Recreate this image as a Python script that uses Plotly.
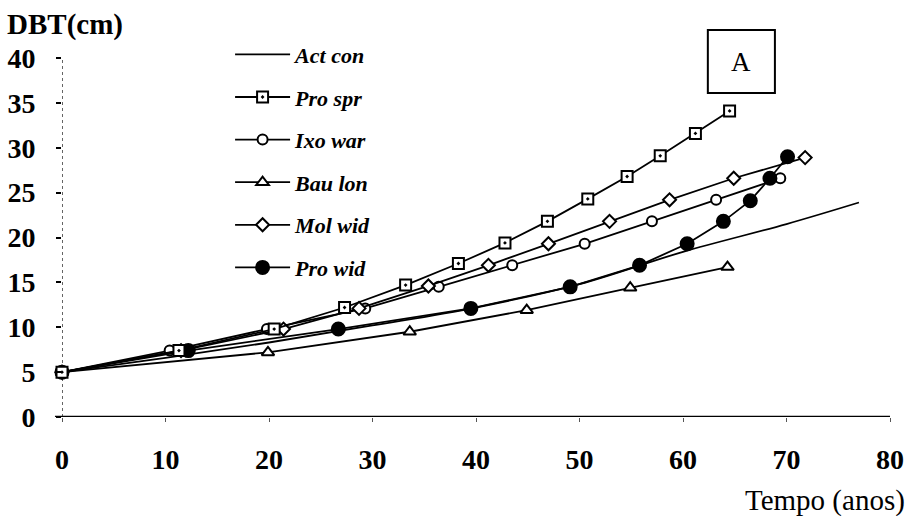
import plotly.graph_objects as go

# ---- data ----
act_con_x = [0, 10, 20, 30, 40, 50, 60, 70, 77]
act_con_y = [5, 6.6, 8.3, 10.2, 12.2, 14.8, 18.4, 21.5, 23.9]

pro_spr_x = [0, 11.3, 20.5, 27.3, 33.2, 38.3, 42.8, 46.9, 50.8, 54.6, 57.8, 61.2, 64.5]
pro_spr_y = [5, 7.4, 9.8, 12.2, 14.7, 17.1, 19.4, 21.8, 24.3, 26.8, 29.1, 31.6, 34.1]

ixo_war_x = [0, 10.4, 19.8, 29.3, 36.4, 43.5, 50.5, 57.0, 63.2, 69.4]
ixo_war_y = [5, 7.4, 9.8, 12.1, 14.5, 16.9, 19.3, 21.8, 24.2, 26.6]

bau_lon_x = [0, 19.9, 33.6, 44.9, 54.9, 64.3]
bau_lon_y = [5, 7.2, 9.5, 11.9, 14.4, 16.7]

mol_wid_x = [0, 11.5, 21.4, 28.7, 35.4, 41.2, 47.0, 52.9, 58.7, 64.9, 71.8]
mol_wid_y = [5, 7.4, 9.8, 12.1, 14.6, 16.9, 19.3, 21.8, 24.2, 26.6, 28.9]

pro_wid_x = [0, 12.2, 26.7, 39.5, 49.1, 55.8, 60.4, 63.9, 66.5, 68.4, 70.1]
pro_wid_y = [5, 7.4, 9.8, 12.1, 14.5, 16.9, 19.3, 21.8, 24.1, 26.6, 29.0]

x_ticks = [0, 10, 20, 30, 40, 50, 60, 70, 80]
y_ticks = [0, 5, 10, 15, 20, 25, 30, 35, 40]

SERIF = "Liberation Serif"
BLACK = "black"

fig = go.Figure()

def add(name, xs, ys, rank, symbol=None, size=11, fill="white", shape="linear"):
    kw = dict(x=xs, y=ys, name=name, legendgroup=name, legendrank=rank,
              cliponaxis=False,
              line=dict(color=BLACK, width=1.8, shape=shape))
    if symbol is None:
        kw["mode"] = "lines"
    else:
        kw["mode"] = "lines+markers"
        kw["marker"] = dict(symbol=symbol, size=size, color=fill,
                            line=dict(color=BLACK, width=2))
    fig.add_trace(go.Scatter(**kw))

add("Act con", act_con_x, act_con_y, 1, shape="spline")
add("Ixo war", ixo_war_x, ixo_war_y, 3, symbol="circle", size=10)
add("Bau lon", bau_lon_x, bau_lon_y, 4, symbol="triangle-up", size=11)
add("Mol wid", mol_wid_x, mol_wid_y, 5, symbol="diamond", size=10)
add("Pro wid", pro_wid_x, pro_wid_y, 6, symbol="circle", size=13, fill=BLACK)
add("Pro spr", pro_spr_x, pro_spr_y, 2, symbol="square-dot", size=11)

tick_font = dict(family=SERIF, size=28, color=BLACK, weight="bold")

fig.update_xaxes(range=[0, 80], tickvals=x_ticks, ticktext=[str(v) for v in x_ticks],
                 showgrid=False, zeroline=False, showline=False, automargin=False,
                 ticks="outside", ticklen=4, tickwidth=1, tickcolor="#555",
                 tickfont=tick_font, ticklabelstandoff=13)
fig.update_yaxes(range=[0, 40], tickvals=y_ticks, ticktext=[str(v) for v in y_ticks],
                 showgrid=False, zeroline=False, showline=False, automargin=False,
                 ticks="outside", ticklen=5, tickwidth=2, tickcolor=BLACK,
                 tickfont=tick_font, ticklabelstandoff=15)

shapes = [
    # dotted y axis
    dict(type="line", xref="x", yref="y", x0=0, x1=0, y0=0, y1=40,
         line=dict(color="#333", width=1.5, dash="dot"), layer="below"),
    # x axis line (extends slightly left of 0)
    dict(type="line", xref="paper", yref="y", x0=-0.0085, x1=1.0, y0=0, y1=0,
         line=dict(color=BLACK, width=2.5)),
    # panel label box
    dict(type="rect", xref="paper", yref="paper", x0=0.780, x1=0.861, y0=0.9025, y1=1.078,
         line=dict(color=BLACK, width=2), fillcolor="white"),
]

annotations = [
    dict(text="DBT(cm)", xref="paper", yref="paper", x=-0.0690, y=1.0947,
         xanchor="left", yanchor="middle", showarrow=False,
         font=dict(family=SERIF, size=29, color=BLACK, weight="bold")),
    dict(text="Tempo (anos)", xref="paper", yref="paper", x=1.021, y=-0.232,
         xanchor="right", yanchor="middle", showarrow=False,
         font=dict(family=SERIF, size=29, color=BLACK)),
    dict(text="A", xref="paper", yref="paper", x=0.8206, y=0.990,
         xanchor="center", yanchor="middle", showarrow=False,
         font=dict(family=SERIF, size=27, color=BLACK)),
]

fig.update_layout(
    width=907, height=516,
    margin=dict(l=62, r=17, t=58, b=99),
    paper_bgcolor="white", plot_bgcolor="white",
    shapes=shapes, annotations=annotations,
    showlegend=True,
    legend=dict(x=0.203, y=1.068, xanchor="left", yanchor="top",
                traceorder="grouped", tracegroupgap=11, itemwidth=55,
                maxheight=480,
                bgcolor="rgba(0,0,0,0)",
                font=dict(family=SERIF, size=22, color=BLACK, style="italic", weight="bold")),
)

fig.write_html("out.html")
